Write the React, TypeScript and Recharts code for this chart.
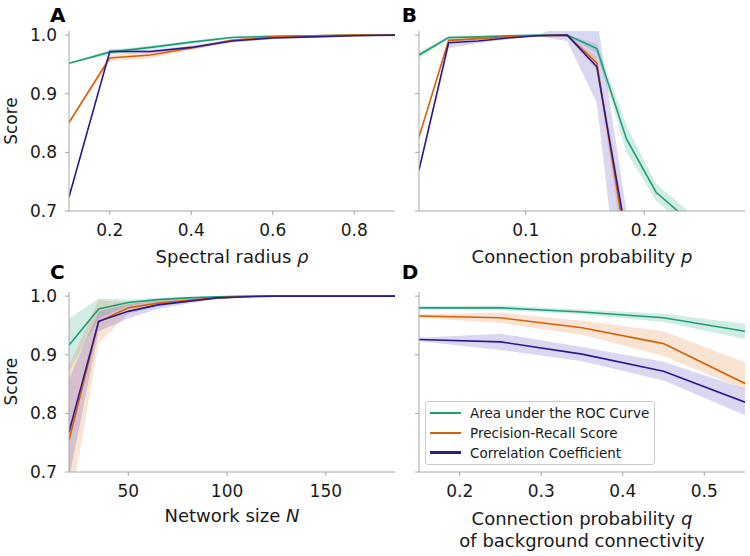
import React from 'react';
import { ComposedChart, Line, Area, XAxis, YAxis } from 'recharts';

// ---------- Panel A : spectral radius ----------
const rhoX = [0.1, 0.2, 0.3, 0.4, 0.5, 0.6, 0.7, 0.8, 0.9];
const aucA = [0.952, 0.971, 0.979, 0.988, 0.996, 0.998, 0.999, 1.0, 1.0];
const aucLoA = [0.951, 0.967, 0.976, 0.985, 0.994, 0.997, 0.998, 0.999, 0.999];
const aucHiA = [0.953, 0.975, 0.982, 0.991, 0.998, 0.999, 1.0, 1.0, 1.0];
const prA = [0.851, 0.961, 0.966, 0.978, 0.991, 0.997, 0.999, 1.0, 1.0];
const prLoA = [0.849, 0.956, 0.96, 0.974, 0.989, 0.996, 0.998, 0.999, 0.999];
const prHiA = [0.853, 0.966, 0.972, 0.982, 0.993, 0.998, 1.0, 1.0, 1.0];
const ccA = [0.724, 0.972, 0.972, 0.979, 0.99, 0.995, 0.997, 0.999, 1.0];
const ccLoA = [0.722, 0.968, 0.969, 0.976, 0.987, 0.993, 0.996, 0.998, 0.999];
const ccHiA = [0.726, 0.976, 0.975, 0.982, 0.993, 0.997, 0.998, 1.0, 1.0];

// ---------- Panel B : connection probability p ----------
const pX = [0.01, 0.035, 0.06, 0.085, 0.11, 0.135, 0.16, 0.185, 0.21, 0.235, 0.26, 0.285];
const aucB = [0.966, 0.996, 0.997, 0.999, 1.0, 1.0, 0.977, 0.823, 0.732, 0.688, 0.64, 0.6];
const aucLoB = [0.961, 0.993, 0.995, 0.998, 0.999, 0.999, 0.969, 0.8, 0.718, 0.672, 0.62, 0.58];
const aucHiB = [0.971, 0.999, 0.999, 1.0, 1.0, 1.0, 0.985, 0.846, 0.746, 0.704, 0.66, 0.62];
const prB = [0.826, 0.991, 0.994, 0.997, 0.999, 1.0, 0.952, 0.636, 0.55, 0.5, 0.47, 0.45];
const prLoB = [0.822, 0.988, 0.992, 0.996, 0.998, 0.999, 0.94, 0.6, 0.52, 0.47, 0.44, 0.42];
const prHiB = [0.83, 0.994, 0.996, 0.998, 1.0, 1.0, 0.964, 0.67, 0.58, 0.53, 0.5, 0.48];
const ccB = [0.77, 0.987, 0.99, 0.995, 0.999, 1.0, 0.946, 0.656, 0.56, 0.5, 0.47, 0.45];
const ccLoB = [0.766, 0.978, 0.986, 0.993, 0.998, 0.99, 0.884, 0.45, 0.4, 0.38, 0.36, 0.35];
const ccHiB = [0.774, 0.992, 0.994, 0.997, 1.0, 1.02, 1.03, 0.7, 0.62, 0.58, 0.55, 0.53];

// ---------- Panel C : network size N ----------
const nX = [20, 35, 50, 65, 80, 95, 110, 125, 140, 155, 170, 185];
const aucC = [0.916, 0.978, 0.989, 0.994, 0.997, 0.999, 1.0, 1.0, 1.0, 1.0, 1.0, 1.0];
const aucLoC = [0.871, 0.962, 0.984, 0.991, 0.995, 0.998, 0.999, 1.0, 1.0, 1.0, 1.0, 1.0];
const aucHiC = [0.962, 0.996, 0.994, 0.997, 0.999, 1.0, 1.0, 1.0, 1.0, 1.0, 1.0, 1.0];
const prC = [0.754, 0.956, 0.98, 0.988, 0.993, 0.997, 0.999, 1.0, 1.0, 1.0, 1.0, 1.0];
const prLoC = [0.628, 0.919, 0.97, 0.982, 0.989, 0.995, 0.998, 1.0, 1.0, 1.0, 1.0, 1.0];
const prHiC = [0.882, 0.993, 0.99, 0.994, 0.997, 0.999, 1.0, 1.0, 1.0, 1.0, 1.0, 1.0];
const ccC = [0.768, 0.957, 0.974, 0.985, 0.991, 0.997, 0.999, 1.0, 1.0, 1.0, 1.0, 1.0];
const ccLoC = [0.69, 0.94, 0.962, 0.978, 0.987, 0.995, 0.998, 1.0, 1.0, 1.0, 1.0, 1.0];
const ccHiC = [0.859, 0.974, 0.986, 0.992, 0.995, 0.999, 1.0, 1.0, 1.0, 1.0, 1.0, 1.0];

// ---------- Panel D : background connectivity q ----------
const qX = [0.15, 0.25, 0.35, 0.45, 0.55];
const aucD = [0.98, 0.98, 0.973, 0.963, 0.94];
const aucLoD = [0.977, 0.976, 0.969, 0.956, 0.927];
const aucHiD = [0.983, 0.984, 0.977, 0.97, 0.953];
const prD = [0.966, 0.963, 0.946, 0.919, 0.851];
const prLoD = [0.963, 0.954, 0.934, 0.898, 0.84];
const prHiD = [0.969, 0.972, 0.958, 0.94, 0.887];
const ccD = [0.926, 0.922, 0.901, 0.872, 0.819];
const ccLoD = [0.923, 0.908, 0.889, 0.856, 0.797];
const ccHiD = [0.929, 0.936, 0.913, 0.888, 0.842];

const xTicksA = [0.2, 0.4, 0.6, 0.8];
const xTicksB = [0.1, 0.2];
const xTicksC = [50, 100, 150];
const xTicksD = [0.2, 0.3, 0.4, 0.5];
const yTicks = [0.7, 0.8, 0.9, 1.0];
const seriesNames = ['Area under the ROC Curve', 'Precision-Recall Score', 'Correlation Coefficient'];

const GREEN = '#1b9e77';
const ORANGE = '#d95f02';
const PURPLE = '#2c1a8e';
const PURPLE_BAND = '#4636b8';
const AXIS = '#a6a6a6';
const FONT = 'DejaVu Sans, sans-serif';
const TEXT = '#1a1a1a';

function buildRows(x, auc, aucLo, aucHi, pr, prLo, prHi, cc, ccLo, ccHi) {
  return x.map((v, i) => ({
    x: v,
    auc: auc[i],
    aucBand: [aucLo[i], aucHi[i]],
    pr: pr[i],
    prBand: [prLo[i], prHi[i]],
    cc: cc[i],
    ccBand: [ccLo[i], ccHi[i]],
  }));
}

const rowsA = buildRows(rhoX, aucA, aucLoA, aucHiA, prA, prLoA, prHiA, ccA, ccLoA, ccHiA);
const rowsB = buildRows(pX, aucB, aucLoB, aucHiB, prB, prLoB, prHiB, ccB, ccLoB, ccHiB);
const rowsC = buildRows(nX, aucC, aucLoC, aucHiC, prC, prLoC, prHiC, ccC, ccLoC, ccHiC);
const rowsD = buildRows(qX, aucD, aucLoD, aucHiD, prD, prLoD, prHiD, ccD, ccLoD, ccHiD);

type LabelSpec = {
  letter: string;
  letterX: number;
  letterY: number;
  score?: { x: number; y: number };
  xLines: { x: number; y: number; parts: { t: string; i?: boolean }[] }[];
};

function PanelText(props: { spec: LabelSpec }) {
  const s = props.spec;
  return (
    <g>
      <text x={s.letterX} y={s.letterY} fontFamily={FONT} fontWeight="bold" fontSize={20} fill="#000">
        {s.letter}
      </text>
      {s.score ? (
        <text
          x={s.score.x}
          y={s.score.y}
          transform={`rotate(-90, ${s.score.x}, ${s.score.y})`}
          textAnchor="middle"
          fontFamily={FONT}
          fontSize={17}
          fill={TEXT}
        >
          Score
        </text>
      ) : null}
      {s.xLines.map((ln, k) => (
        <text key={k} x={ln.x} y={ln.y} textAnchor="middle" fontFamily={FONT} fontSize={18} fill={TEXT}>
          {ln.parts.map((p, j) => (
            <tspan key={j} fontStyle={p.i ? 'italic' : 'normal'}>
              {p.t}
            </tspan>
          ))}
        </text>
      ))}
    </g>
  );
}

type PanelProps = {
  rows: any[];
  left: number;
  top: number;
  width: number;
  height: number;
  marginTop: number;
  yWidth: number;
  xHeight: number;
  xDomain: [number, number];
  xTicks: number[];
  xFmt: (v: number) => string;
  showYLabels: boolean;
  spec: LabelSpec;
};

function Panel(p: PanelProps) {
  const tickStyle = { fill: TEXT, fontSize: 17, fontFamily: FONT };
  return (
    <div style={{ position: 'absolute', left: p.left, top: p.top, width: p.width, height: p.height }}>
      <ComposedChart
        width={p.width}
        height={p.height}
        data={p.rows}
        margin={{ top: p.marginTop, right: 5, bottom: 0, left: 0 }}
      >
        <XAxis
          type="number"
          dataKey="x"
          domain={p.xDomain}
          ticks={p.xTicks}
          interval={0}
          allowDataOverflow
          height={p.xHeight}
          stroke={AXIS}
          tickSize={4}
          tickMargin={9}
          tick={tickStyle}
          tickFormatter={p.xFmt}
          label={<PanelText spec={p.spec} />}
        />
        <YAxis
          type="number"
          domain={[0.7, 1.007]}
          ticks={yTicks}
          interval={0}
          allowDataOverflow
          width={p.yWidth}
          stroke={AXIS}
          tickSize={4}
          tickMargin={8}
          tick={tickStyle}
          tickFormatter={(v: number) => (p.showYLabels ? v.toFixed(1) : '')}
        />
        <Area dataKey="aucBand" type="linear" stroke="none" fill={GREEN} fillOpacity={0.2} isAnimationActive={false} />
        <Area dataKey="prBand" type="linear" stroke="none" fill={ORANGE} fillOpacity={0.17} isAnimationActive={false} />
        <Area dataKey="ccBand" type="linear" stroke="none" fill={PURPLE_BAND} fillOpacity={0.2} isAnimationActive={false} />
        <Line dataKey="auc" type="linear" stroke={GREEN} strokeWidth={1.6} dot={false} isAnimationActive={false} />
        <Line dataKey="pr" type="linear" stroke={ORANGE} strokeWidth={1.6} dot={false} isAnimationActive={false} />
        <Line dataKey="cc" type="linear" stroke={PURPLE} strokeWidth={1.6} dot={false} isAnimationActive={false} />
      </ComposedChart>
    </div>
  );
}

function LegendBox() {
  const colors = [GREEN, ORANGE, PURPLE];
  const rowsY = [11.6, 31.6, 51];
  return (
    <div
      style={{
        position: 'absolute',
        left: 425,
        top: 400.5,
        width: 230,
        height: 64,
        border: '1px solid #cccccc',
        borderRadius: 3,
        background: 'rgba(255,255,255,0.85)',
        boxSizing: 'border-box',
      }}
    >
      {seriesNames.map((name, i) => (
        <React.Fragment key={name}>
          <div
            style={{
              position: 'absolute',
              left: 4,
              top: rowsY[i] - 1.4,
              width: 31,
              height: 2.8,
              background: colors[i],
            }}
          />
          <div
            style={{
              position: 'absolute',
              left: 44,
              top: rowsY[i] - 9,
              height: 18,
              lineHeight: '18px',
              fontFamily: FONT,
              fontSize: 13.5,
              color: TEXT,
              whiteSpace: 'nowrap',
            }}
          >
            {name}
          </div>
        </React.Fragment>
      ))}
    </div>
  );
}

const fmt1 = (v: number) => v.toFixed(1);
const fmt0 = (v: number) => String(v);

export default function App() {
  return (
    <div style={{ position: 'absolute', left: 0, top: 0, width: 750, height: 556, background: '#fff', overflow: 'hidden' }}>
      <Panel
        rows={rowsA}
        left={0}
        top={0}
        width={400}
        height={278}
        marginTop={31}
        yWidth={69}
        xHeight={67}
        xDomain={[0.1, 0.9]}
        xTicks={xTicksA}
        xFmt={fmt1}
        showYLabels
        spec={{
          letter: 'A',
          letterX: 50,
          letterY: 21.7,
          score: { x: 16.7, y: 121 },
          xLines: [{ x: 232, y: 263, parts: [{ t: 'Spectral radius ' }, { t: 'ρ', i: true }] }],
        }}
      />
      <Panel
        rows={rowsB}
        left={400}
        top={0}
        width={350}
        height={278}
        marginTop={31}
        yWidth={19}
        xHeight={67}
        xDomain={[0.01, 0.285]}
        xTicks={xTicksB}
        xFmt={fmt1}
        showYLabels={false}
        spec={{
          letter: 'B',
          letterX: 1.7,
          letterY: 21.7,
          xLines: [{ x: 182, y: 263, parts: [{ t: 'Connection probability ' }, { t: 'p', i: true }] }],
        }}
      />
      <Panel
        rows={rowsC}
        left={0}
        top={256}
        width={400}
        height={300}
        marginTop={36}
        yWidth={69}
        xHeight={84}
        xDomain={[20, 185]}
        xTicks={xTicksC}
        xFmt={fmt0}
        showYLabels
        spec={{
          letter: 'C',
          letterX: 50,
          letterY: 23,
          score: { x: 16.7, y: 125.7 },
          xLines: [{ x: 232, y: 266, parts: [{ t: 'Network size ' }, { t: 'N', i: true }] }],
        }}
      />
      <Panel
        rows={rowsD}
        left={400}
        top={256}
        width={350}
        height={300}
        marginTop={36}
        yWidth={19}
        xHeight={84}
        xDomain={[0.15, 0.55]}
        xTicks={xTicksD}
        xFmt={fmt1}
        showYLabels={false}
        spec={{
          letter: 'D',
          letterX: 1.7,
          letterY: 23,
          xLines: [
            { x: 182, y: 269, parts: [{ t: 'Connection probability ' }, { t: 'q', i: true }] },
            { x: 182, y: 291, parts: [{ t: 'of background connectivity' }] },
          ],
        }}
      />
      <LegendBox />
    </div>
  );
}
